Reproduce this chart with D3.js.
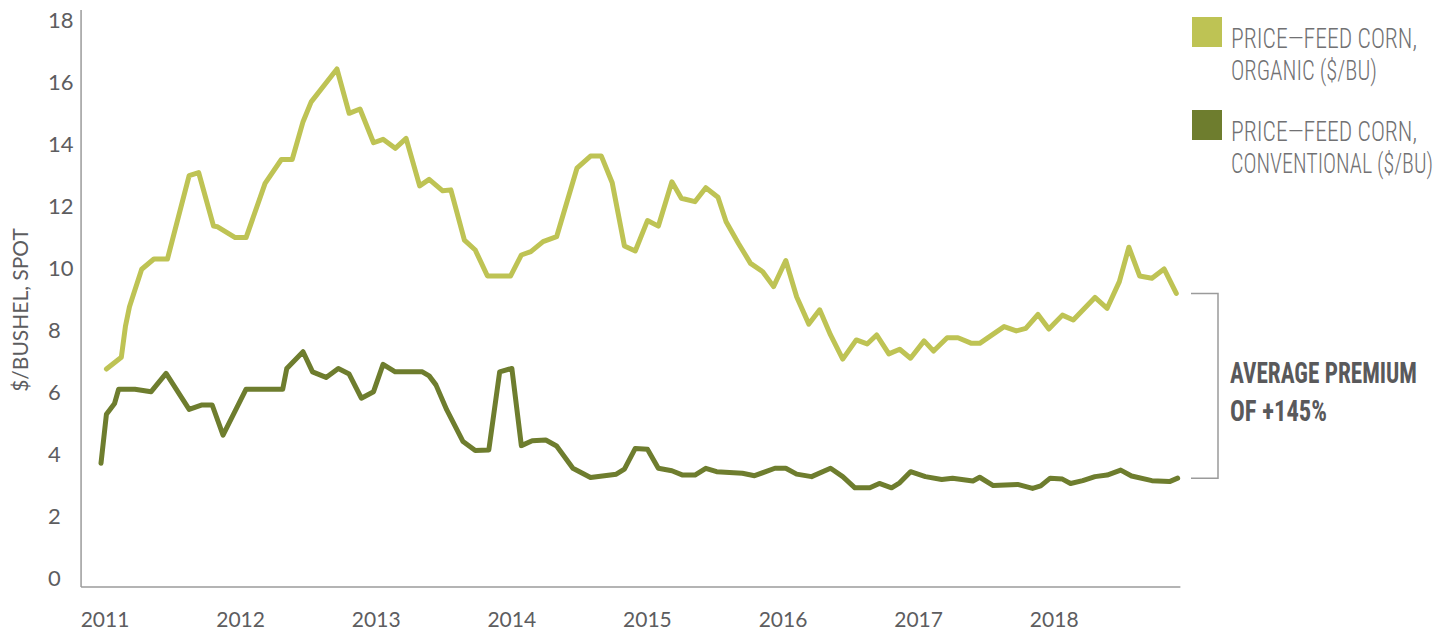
<!DOCTYPE html>
<html>
<head>
<meta charset="utf-8">
<script src="https://cdn.jsdelivr.net/npm/d3@7"></script>
<style>
  html, body { margin: 0; padding: 0; background: #ffffff; }
  svg { display: block; }
</style>
</head>
<body>
<svg id="chart" width="1452" height="633"></svg>
<script>
// Feed corn spot prices, $/bushel, sampled by decimal year
const organicYears = [2011.04, 2011.15, 2011.18, 2011.21, 2011.25, 2011.30, 2011.39, 2011.49, 2011.65, 2011.72,
  2011.83, 2011.86, 2011.99, 2012.07, 2012.21, 2012.33, 2012.41, 2012.49, 2012.55, 2012.74,
  2012.83, 2012.91, 2013.01, 2013.08, 2013.17, 2013.25, 2013.35, 2013.42, 2013.52, 2013.58,
  2013.68, 2013.76, 2013.85, 2014.02, 2014.10, 2014.17, 2014.26, 2014.36, 2014.51, 2014.61,
  2014.69, 2014.77, 2014.86, 2014.94, 2015.03, 2015.11, 2015.21, 2015.28, 2015.38, 2015.46,
  2015.55, 2015.61, 2015.70, 2015.79, 2015.88, 2015.96, 2016.05, 2016.13, 2016.22, 2016.30,
  2016.38, 2016.47, 2016.57, 2016.65, 2016.72, 2016.81, 2016.89, 2016.97, 2017.07, 2017.14,
  2017.24, 2017.32, 2017.42, 2017.48, 2017.66, 2017.75, 2017.82, 2017.91, 2017.99, 2018.09,
  2018.17, 2018.33, 2018.42, 2018.51, 2018.58, 2018.66, 2018.75, 2018.84, 2018.93];
const organicPrices = [6.74, 7.12, 8.11, 8.75, 9.29, 9.96, 10.29, 10.29, 12.98, 13.08,
  11.35, 11.33, 10.98, 10.98, 12.73, 13.50, 13.50, 14.72, 15.36, 16.42,
  14.99, 15.13, 14.04, 14.15, 13.86, 14.18, 12.65, 12.86, 12.49, 12.52,
  10.90, 10.58, 9.74, 9.74, 10.42, 10.53, 10.85, 11.01, 13.22, 13.61,
  13.61, 12.75, 10.71, 10.55, 11.53, 11.35, 12.78, 12.25, 12.14, 12.59,
  12.28, 11.49, 10.80, 10.15, 9.88, 9.40, 10.24, 9.07, 8.19, 8.65,
  7.84, 7.06, 7.68, 7.55, 7.84, 7.23, 7.38, 7.09, 7.65, 7.32,
  7.75, 7.75, 7.57, 7.57, 8.11, 7.97, 8.05, 8.50, 8.03, 8.48,
  8.32, 9.05, 8.70, 9.56, 10.67, 9.74, 9.67, 9.97, 9.18];

const conventionalYears = [2011.00, 2011.04, 2011.10, 2011.13, 2011.25, 2011.37, 2011.48, 2011.65, 2011.74, 2011.82,
  2011.90, 2012.07, 2012.34, 2012.37, 2012.49, 2012.56, 2012.66, 2012.75, 2012.83, 2012.92,
  2013.01, 2013.08, 2013.17, 2013.37, 2013.42, 2013.47, 2013.55, 2013.67, 2013.76, 2013.86,
  2013.94, 2014.03, 2014.10, 2014.18, 2014.28, 2014.36, 2014.48, 2014.61, 2014.80, 2014.86,
  2014.94, 2015.03, 2015.11, 2015.21, 2015.29, 2015.38, 2015.46, 2015.54, 2015.73, 2015.82,
  2015.97, 2016.05, 2016.13, 2016.24, 2016.38, 2016.47, 2016.56, 2016.67, 2016.74, 2016.83,
  2016.89, 2016.97, 2017.08, 2017.20, 2017.28, 2017.43, 2017.48, 2017.58, 2017.76, 2017.87,
  2017.93, 2018.00, 2018.09, 2018.15, 2018.24, 2018.33, 2018.42, 2018.52, 2018.60, 2018.75,
  2018.88, 2018.94];
const conventionalPrices = [3.70, 5.28, 5.63, 6.09, 6.09, 6.01, 6.60, 5.44, 5.58, 5.58,
  4.61, 6.09, 6.09, 6.76, 7.30, 6.65, 6.47, 6.76, 6.58, 5.80,
  6.01, 6.89, 6.65, 6.65, 6.52, 6.23, 5.42, 4.40, 4.11, 4.13,
  6.65, 6.76, 4.27, 4.43, 4.45, 4.26, 3.54, 3.24, 3.35, 3.51,
  4.18, 4.15, 3.54, 3.46, 3.32, 3.32, 3.54, 3.43, 3.38, 3.30,
  3.54, 3.54, 3.35, 3.27, 3.54, 3.27, 2.91, 2.91, 3.05, 2.91,
  3.07, 3.43, 3.27, 3.18, 3.22, 3.13, 3.25, 2.98, 3.02, 2.89,
  2.97, 3.22, 3.19, 3.05, 3.14, 3.27, 3.32, 3.48, 3.29, 3.14,
  3.11, 3.22];

const yearTicks = [2011, 2012, 2013, 2014, 2015, 2016, 2017, 2018];
const priceTicks = [0, 2, 4, 6, 8, 10, 12, 14, 16, 18];

const seriesNames = ["PRICE\u2014FEED CORN,|ORGANIC ($/BU)", "PRICE\u2014FEED CORN,|CONVENTIONAL ($/BU)"];
const premiumLabel = ["AVERAGE PREMIUM", "OF +145%"];

const organicColor = "#bec354";
const conventionalColor = "#6e7d2e";
const axisColor = "#9b9b9b";
const textColor = "#5d5d5f";
const condensedFont = "'Roboto Condensed', 'Liberation Sans Narrow', 'DejaVu Sans Condensed', Roboto, sans-serif";

const svg = d3.select("#chart");

const x = d3.scaleLinear().domain([2011, 2019]).range([101, 101 + 8 * 135.6]);
const y = d3.scaleLinear().domain([0, 18]).range([578, 20]);

const organic = organicYears.map((t, i) => ({ t, v: organicPrices[i] }));
const conventional = conventionalYears.map((t, i) => ({ t, v: conventionalPrices[i] }));

// axis lines (extended a little past the outer ticks)
const axisLeftX = x(2010.853);
const axisRightX = x(2018.96);
const axisBottomY = y(-0.29);
const axisTopY = y(18.32);

svg.append("line")
  .attr("x1", axisLeftX).attr("x2", axisLeftX)
  .attr("y1", axisTopY).attr("y2", axisBottomY)
  .attr("stroke", axisColor).attr("stroke-width", 1.5);
svg.append("line")
  .attr("x1", axisLeftX).attr("x2", axisRightX)
  .attr("y1", axisBottomY).attr("y2", axisBottomY)
  .attr("stroke", axisColor).attr("stroke-width", 1.5);

// y tick labels
const yAxis = svg.append("g")
  .attr("transform", `translate(${axisLeftX},0)`)
  .call(d3.axisLeft(y).tickValues(priceTicks).tickSize(0).tickFormat(d3.format("d")));
yAxis.select(".domain").remove();
yAxis.selectAll("text")
  .attr("x", -33)
  .attr("text-anchor", "start")
  .attr("dy", "0.36em")
  .attr("fill", textColor)
  .style("font-family", "Lato, 'Open Sans', sans-serif")
  .style("font-size", "22px");

// x tick labels
const xAxis = svg.append("g")
  .attr("transform", `translate(0,${axisBottomY})`)
  .call(d3.axisBottom(x).tickValues(yearTicks).tickSize(0).tickFormat(d3.format("d")));
xAxis.select(".domain").remove();
xAxis.selectAll("text")
  .attr("dx", 3.5)
  .attr("y", 40)
  .attr("dy", 0)
  .attr("fill", textColor)
  .style("font-family", "Lato, 'Open Sans', sans-serif")
  .style("font-size", "21px");

// y axis title
svg.append("text")
  .attr("transform", `translate(28,${(217 + 403) / 2}) rotate(-90)`)
  .attr("text-anchor", "middle")
  .attr("fill", textColor)
  .style("font-family", "Lato, 'Open Sans', sans-serif")
  .style("font-size", "21px")
  .text("$/BUSHEL, SPOT");

// price lines
const line = d3.line().x(d => x(d.t)).y(d => y(d.v)).curve(d3.curveLinear);

svg.append("path")
  .datum(conventional)
  .attr("d", line)
  .attr("fill", "none")
  .attr("stroke", conventionalColor)
  .attr("stroke-width", 5)
  .attr("stroke-linejoin", "round")
  .attr("stroke-linecap", "round");

svg.append("path")
  .datum(organic)
  .attr("d", line)
  .attr("fill", "none")
  .attr("stroke", organicColor)
  .attr("stroke-width", 5)
  .attr("stroke-linejoin", "round")
  .attr("stroke-linecap", "round");

// condensed display text: a smaller face stretched vertically and fitted to its width
function tallText(parent, px, py, str, size, stretch, width, weight, fill) {
  parent.append("g")
    .attr("transform", `translate(${px},${py}) scale(1,${stretch})`)
    .append("text")
    .attr("x", 0).attr("y", 0)
    .attr("fill", fill)
    .attr("textLength", width)
    .attr("lengthAdjust", "spacingAndGlyphs")
    .style("font-family", condensedFont)
    .style("font-weight", weight)
    .style("font-size", size + "px")
    .text(str);
}

// legend
const legendColors = [organicColor, conventionalColor];
const legendWidths = [[186, 146], [186, 202]];
const legend = svg.append("g");
seriesNames.forEach((name, i) => {
  const top = 17 + i * 93;
  legend.append("rect")
    .attr("x", 1192).attr("y", top)
    .attr("width", 30).attr("height", 30)
    .attr("fill", legendColors[i]);
  name.split("|").forEach((ln, j) => {
    tallText(legend, 1231, top + 31 + j * 32, ln, 22, 27 / 22, legendWidths[i][j], 300, "#717173");
  });
});

// bracket spanning the final organic and conventional prices
const lastOrganic = organic[organic.length - 1];
const lastConventional = conventional[conventional.length - 1];
const bTop = y(lastOrganic.v);
const bBottom = y(lastConventional.v);
svg.append("path")
  .attr("d", `M1191,${bTop}H1218V${bBottom}H1191`)
  .attr("fill", "none")
  .attr("stroke", axisColor)
  .attr("stroke-width", 1.5);

const premiumWidths = [187, 97];
premiumLabel.forEach((ln, j) => {
  tallText(svg, 1230, 383 + j * 38, ln, 25, 29 / 25, premiumWidths[j], 700, "#59595b");
});
</script>
</body>
</html>
